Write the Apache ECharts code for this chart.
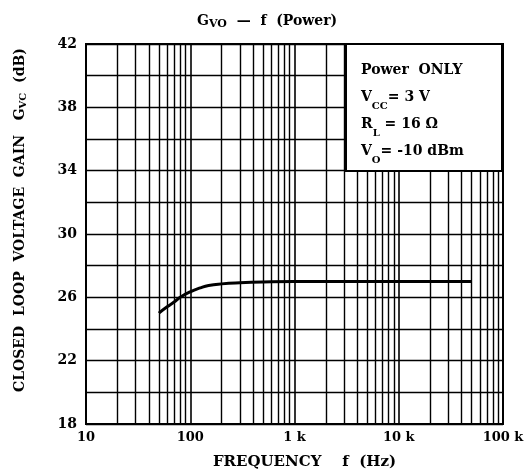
<!DOCTYPE html>
<html>
<head>
<meta charset="utf-8">
<script src="https://cdn.jsdelivr.net/npm/echarts@6/dist/echarts.min.js"></script>
<style>
  html, body { margin: 0; padding: 0; background: #fff; }
  #chart { width: 530px; height: 473px; }
</style>
</head>
<body>
<div id="chart"></div>
<script>
// 周波数 (Hz) と 利得 (dB)
const freqs = [50, 60, 70, 80, 100, 125, 150, 200, 300, 500, 1000, 10000, 50000];
const gains = [25.0, 25.4, 25.7, 26.0, 26.35, 26.6, 26.75, 26.85, 26.92, 26.97, 27.0, 27.0, 27.0];
// 対数目盛の補助線
const gridFreqs = [20, 30, 40, 50, 60, 70, 80, 90,
  200, 300, 400, 500, 600, 700, 800, 900,
  2000, 3000, 4000, 5000, 6000, 7000, 8000, 9000,
  20000, 30000, 40000, 50000, 60000, 70000, 80000, 90000];
const noteLines = ['Power  ONLY', 'V{s|CC}= 3 V', 'R{s|L} = 16 Ω', 'V{s|O}= -10 dBm'];

const font = 'DejaVu Serif';
const sub = (size, pad) => ({ fontFamily: font, fontWeight: 'bold', fontSize: size, verticalAlign: 'bottom', padding: [pad, 0, 0, 0] });
const chart = echarts.init(document.getElementById('chart'));

const option = {
  animation: false,
  backgroundColor: '#fff',
  title: {
    text: 'G{s|VO}  —  f  (Power)',
    left: 192, top: 8,
    textStyle: {
      fontFamily: font, fontWeight: 'bold', fontSize: 14, color: '#000',
      rich: { s: sub(11, 6) }
    }
  },
  grid: {
    left: 86, right: 27, top: 44, bottom: 49,
    outerBoundsMode: 'none',
    show: true, borderColor: '#000', borderWidth: 2
  },
  xAxis: {
    type: 'log', logBase: 10, min: 10, max: 100000,
    name: 'FREQUENCY    f  (Hz)', nameLocation: 'middle', nameGap: 31,
    nameTextStyle: { fontFamily: font, fontWeight: 'bold', fontSize: 15, color: '#000', padding: [0, 0, 0, 20] },
    axisLine: { show: false },
    axisTick: { show: false },
    axisLabel: {
      fontFamily: font, fontWeight: 'bold', fontSize: 13, color: '#000', margin: 7,
      formatter: v => v >= 1000 ? (v / 1000) + ' k' : String(v)
    },
    splitLine: { show: true, lineStyle: { color: '#000', width: 1.6 } }
  },
  yAxis: {
    type: 'value', min: 18, max: 42, interval: 4,
    name: 'CLOSED  LOOP  VOLTAGE  GAIN   G{s|VC}  (dB)', nameLocation: 'middle', nameRotate: 90, nameGap: 58,
    nameTextStyle: {
      fontFamily: font, fontWeight: 'bold', fontSize: 14, color: '#000', padding: [0, 0, 0, 28],
      rich: { s: sub(10, 6) }
    },
    axisLine: { show: false },
    axisTick: { show: false },
    axisLabel: { fontFamily: font, fontWeight: 'bold', fontSize: 14, color: '#000', margin: 9 },
    splitLine: { show: true, lineStyle: { color: '#000', width: 1.4 } },
    minorTick: { show: false, splitNumber: 2 },
    minorSplitLine: { show: true, lineStyle: { color: '#000', width: 1.4 } }
  },
  series: [{
    type: 'line',
    data: freqs.map((f, i) => [f, gains[i]]),
    smooth: true,
    showSymbol: false,
    z: 5,
    lineStyle: { color: '#000', width: 3 },
    markLine: {
      silent: true, symbol: 'none', label: { show: false }, z: 3,
      lineStyle: { color: '#000', width: 1.4, type: 'solid' },
      data: gridFreqs.map(v => ({ xAxis: v }))
    }
  }],
  graphic: [
    { type: 'rect', z: 100, zlevel: 1, shape: { x: 346, y: 44, width: 156, height: 127 },
      style: { fill: '#fff', stroke: '#000', lineWidth: 2 } },
    { type: 'text', z: 101, zlevel: 1, x: 361, y: 57,
      style: {
        text: noteLines.join('\n'),
        fontFamily: font, fontWeight: 'bold', fontSize: 14, fill: '#000', lineHeight: 27,
        rich: { s: sub(10, 6) }
      } }
  ]
};
chart.setOption(option);
</script>
</body>
</html>
